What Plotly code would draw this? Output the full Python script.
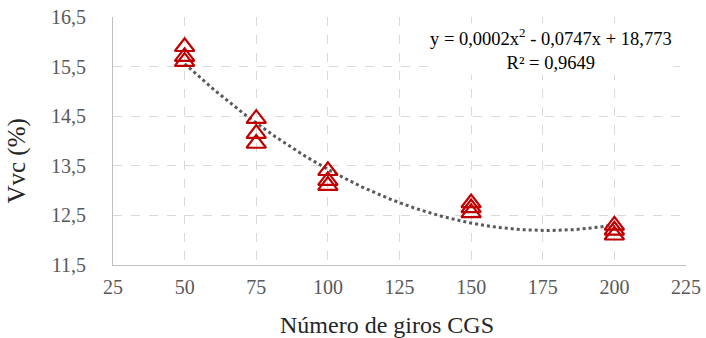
import numpy as np
import plotly.graph_objects as go

# Number of CGS gyrations and measured voids (Vvc, %)
giros = [50, 50, 50, 75, 75, 75, 100, 100, 100, 150, 150, 150, 200, 200, 200]
vvc = [15.9, 15.7, 15.6, 14.45, 14.15, 13.95, 13.4, 13.2, 13.1, 12.75, 12.65, 12.55, 12.3, 12.2, 12.1]

x_ticks = [25, 50, 75, 100, 125, 150, 175, 200, 225]
y_ticks = [11.5, 12.5, 13.5, 14.5, 15.5, 16.5]

# Second-order polynomial trendline
coef = np.polyfit(giros, vvc, 2)
xs = np.linspace(min(giros), max(giros), 200)
ys = np.polyval(coef, xs)

font = "Liberation Serif, Times New Roman, serif"

fig = go.Figure()
fig.add_trace(go.Scatter(
    x=xs, y=ys, mode="lines",
    line=dict(color="#595959", width=3, dash="dot"),
    hoverinfo="skip", showlegend=False,
))
fig.add_trace(go.Scatter(
    x=giros, y=vvc, mode="markers",
    marker=dict(symbol="triangle-up-open", size=17, color="#c00000",
                line=dict(color="#c00000", width=2.2)),
    showlegend=False,
))

# Trendline equation box
fig.add_annotation(
    x=0.765, y=0.872, xref="paper", yref="paper",
    xanchor="center", yanchor="middle",
    text="y = 0,0002x<sup>2</sup> - 0,0747x + 18,773<br>R² = 0,9649",
    showarrow=False, align="center",
    font=dict(family=font, size=18.5, color="#000000"),
    bgcolor="white",
)

# Axis titles
fig.add_annotation(
    x=-0.168, y=0.42, xref="paper", yref="paper",
    xanchor="center", yanchor="middle", textangle=-90,
    text="Vvc (%)", showarrow=False,
    font=dict(family=font, size=25, color="#262626"),
)
fig.add_annotation(
    x=0.478, y=-0.242, xref="paper", yref="paper",
    xanchor="center", yanchor="middle",
    text="Número de giros CGS", showarrow=False,
    font=dict(family=font, size=24, color="#262626"),
)

axis_common = dict(
    showgrid=True, gridcolor="#d9d9d9", griddash="dash", gridwidth=1,
    showline=True, linecolor="#bfbfbf", linewidth=1,
    ticks="", zeroline=False, automargin=False,
    tickfont=dict(family=font, size=20, color="#595959"),
)

fig.update_xaxes(
    range=[25, 225], tickvals=x_ticks, ticklabelstandoff=4,
    **axis_common,
)
fig.update_yaxes(
    range=[11.5, 16.5], tickvals=y_ticks, tickformat=".1f", ticklabelstandoff=22,
    **axis_common,
)

fig.update_layout(
    width=706, height=338,
    margin=dict(l=113, r=20, t=17, b=73),
    paper_bgcolor="white", plot_bgcolor="white",
    separators=", ",
)

fig.write_html("out.html")
